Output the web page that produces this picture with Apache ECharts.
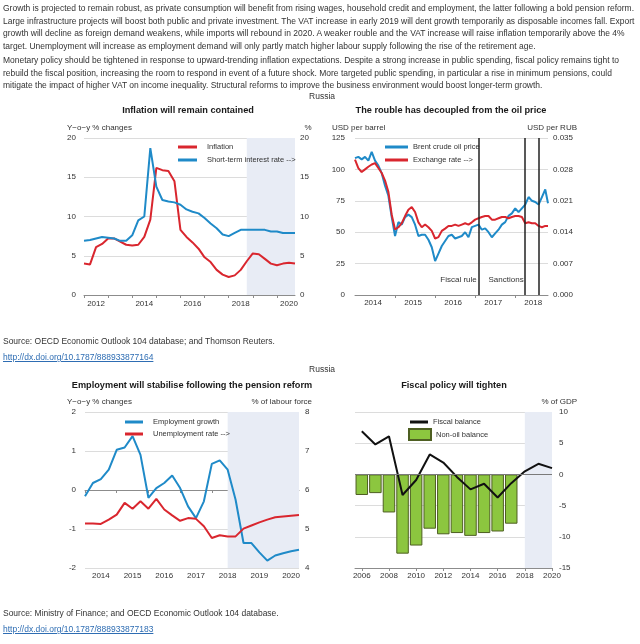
<!DOCTYPE html>
<html><head><meta charset="utf-8">
<script src="https://cdn.jsdelivr.net/npm/echarts@6/dist/echarts.min.js"></script>
<style>
html,body{margin:0;padding:0;background:#fff;}
#wrap{position:relative;width:640px;height:644px;overflow:hidden;font-family:"Liberation Sans",Arial,sans-serif;color:#333;}
#chart{position:absolute;left:0;top:0;width:640px;height:644px;}
.txt{position:absolute;left:3px;white-space:nowrap;font-size:9.3px;line-height:12.6px;transform-origin:0 0;z-index:5;}
.txt div{white-space:nowrap;}
a{color:#2e6db3;}
</style></head><body>
<div id="wrap">
<div id="chart"></div>
<div class="txt" id="para1" style="top:2px">
<div><span id="ref1">Growth is projected to remain robust, as private consumption will benefit from rising wages, household credit and employment, the latter following a bold pension reform.</span></div>
<div>Large infrastructure projects will boost both public and private investment. The VAT increase in early 2019 will dent growth temporarily as disposable incomes fall. Export</div>
<div>growth will decline as foreign demand weakens, while imports will rebound in 2020. A weaker rouble and the VAT increase will raise inflation temporarily above the 4%</div>
<div>target. Unemployment will increase as employment demand will only partly match higher labour supply following the rise of the retirement age.</div>
</div>
<div class="txt" id="para2" style="top:54px">
<div>Monetary policy should be tightened in response to upward-trending inflation expectations. Despite a strong increase in public spending, fiscal policy remains tight to</div>
<div>rebuild the fiscal position, increasing the room to respond in event of a future shock. More targeted public spending, in particular a rise in minimum pensions, could</div>
<div>mitigate the impact of higher VAT on income inequality. Structural reforms to improve the business environment would boost longer-term growth.</div>
</div>
<div class="txt" id="src1" style="top:333px;line-height:16px">
<div>Source: OECD Economic Outlook 104 database; and Thomson Reuters.</div>
<div><a href="#">http://dx.doi.org/10.1787/888933877164</a></div>
</div>
<div class="txt" id="src2" style="top:605px;line-height:16px">
<div>Source: Ministry of Finance; and OECD Economic Outlook 104 database.</div>
<div><a href="#">http://dx.doi.org/10.1787/888933877183</a></div>
</div>
</div>
<script>
// ---------- Panel 1: Inflation ----------
const p1Quarters = ['2012Q1','2012Q2','2012Q3','2012Q4','2013Q1','2013Q2','2013Q3','2013Q4','2014Q1','2014Q2','2014Q3','2014Q4','2015Q1','2015Q2','2015Q3','2015Q4','2016Q1','2016Q2','2016Q3','2016Q4','2017Q1','2017Q2','2017Q3','2017Q4','2018Q1','2018Q2','2018Q3','2018Q4','2019Q1','2019Q2','2019Q3','2019Q4','2020Q1','2020Q2','2020Q3','2020Q4'];
const inflation = [4.0,3.9,6.1,6.5,7.2,7.2,6.8,6.4,6.3,6.4,7.4,9.6,16.2,15.9,15.8,14.5,8.3,7.4,6.7,5.9,4.8,4.2,3.2,2.6,2.3,2.5,3.2,4.3,5.3,5.2,4.6,4.0,3.8,4.0,4.1,4.0];
const shortRate = [6.9,7.0,7.2,7.4,7.3,7.2,6.9,6.9,7.6,9.5,10.0,18.7,13.8,12.1,11.9,11.8,11.5,10.9,10.6,10.4,9.8,9.1,8.5,7.7,7.5,7.9,8.3,8.3,8.3,8.3,8.3,8.1,8.1,7.9,7.9,7.9];
const p1ProjStart = '2018Q4';
// ---------- Panel 2: Oil and rouble ----------
const p2Dates = ['2014-01-01','2014-02-01','2014-03-01','2014-04-01','2014-05-01','2014-06-01','2014-07-01','2014-08-01','2014-09-01','2014-10-01','2014-11-01','2014-12-01',
'2015-01-01','2015-02-01','2015-03-01','2015-04-01','2015-05-01','2015-06-01','2015-07-01','2015-08-01','2015-09-01','2015-10-01','2015-11-01','2015-12-01',
'2016-01-01','2016-02-01','2016-03-01','2016-04-01','2016-05-01','2016-06-01','2016-07-01','2016-08-01','2016-09-01','2016-10-01','2016-11-01','2016-12-01',
'2017-01-01','2017-02-01','2017-03-01','2017-04-01','2017-05-01','2017-06-01','2017-07-01','2017-08-01','2017-09-01','2017-10-01','2017-11-01','2017-12-01',
'2018-01-01','2018-02-01','2018-03-01','2018-04-01','2018-05-01','2018-06-01','2018-07-01','2018-08-01','2018-09-01','2018-10-01','2018-10-26'];
const brent = [109,110,108,110,107,114,107,103,97,87,79,62,47,58,56,62,64,62,56,47,48,48,44,38,27,33,39,43,47,48,45,46,47,50,46,54,55,56,52,53,50,46,49,52,56,58,63,65,69,66,69,72,78,75,74,72,78,84,73];
const usdPerRub = [0.0302,0.0283,0.0274,0.0280,0.0286,0.0291,0.0294,0.0283,0.0272,0.0255,0.0230,0.0179,0.0146,0.0151,0.0160,0.0176,0.0190,0.0196,0.0185,0.0162,0.0151,0.0157,0.0151,0.0143,0.0126,0.0129,0.0143,0.0148,0.0154,0.0154,0.0157,0.0154,0.0157,0.0160,0.0157,0.0162,0.0168,0.0171,0.0174,0.0176,0.0176,0.0168,0.0168,0.0171,0.0174,0.0174,0.0171,0.0174,0.0176,0.0176,0.0174,0.0160,0.0162,0.0160,0.0160,0.0154,0.0151,0.0154,0.0154];
const p2Events = ['2017-02-01','2018-04-01','2018-08-01'];
const p2EventLabels = [{date:'2017-01-25', text:'Fiscal rule'},{date:'2018-03-26', text:'Sanctions'}];
const p2Years = [2014,2015,2016,2017,2018];
// ---------- Panel 3: Employment ----------
const p3Quarters = ['2014Q1','2014Q2','2014Q3','2014Q4','2015Q1','2015Q2','2015Q3','2015Q4','2016Q1','2016Q2','2016Q3','2016Q4','2017Q1','2017Q2','2017Q3','2017Q4','2018Q1','2018Q2','2018Q3','2018Q4','2019Q1','2019Q2','2019Q3','2019Q4','2020Q1','2020Q2','2020Q3','2020Q4'];
const employment = [-0.16,0.18,0.28,0.52,1.03,1.09,1.38,0.90,-0.20,0.05,0.18,0.37,0.05,-0.42,-0.72,-0.29,0.67,0.76,0.52,-0.25,-1.36,-1.36,-1.60,-1.81,-1.68,-1.62,-1.57,-1.53];
const unemployment = [5.14,5.14,5.13,5.24,5.37,5.67,5.52,5.71,5.52,5.77,5.50,5.35,5.21,5.28,5.26,5.07,4.77,4.84,4.81,4.81,5.01,5.09,5.17,5.24,5.30,5.32,5.34,5.36];
const p3ProjStart = '2018Q3';
// ---------- Panel 4: Fiscal ----------
const p4Years = [2006,2007,2008,2009,2010,2011,2012,2013,2014,2015,2016,2017,2018,2019,2020];
const fiscalBalance = [6.9,4.8,6.1,-3.3,-0.9,3.2,1.9,-0.4,-2.4,-1.5,-3.7,-1.4,0.5,1.7,1.0];
const nonOilBalance = [-3.3,-3.0,-6.1,-12.7,-11.4,-8.7,-9.6,-9.4,-9.85,-9.4,-9.15,-7.9,null,null,null];
const p4ProjStart = 2018;
const p4LabelYears = [2006,2008,2010,2012,2014,2016,2018,2020];

const FONT = '"Liberation Sans", Arial, sans-serif';
const RED = '#d9262e', BLUE = '#1f8ac8', SHADE = '#e8ecf5', GRIDC = '#dcdcdc', AXC = '#8c8c8c', TXT = '#333';
// date string -> decimal year (position on the panel-2 value axis)
const dy = s => { const p = s.split('-').map(Number); return p[0] + (p[1]-1)/12 + (p[2]-1)/365; };

function txt(text, x, y, align, size) {
  return {text, left: x, top: y, textAlign: align, padding: 0,
    textStyle: {fontFamily: FONT, fontSize: size || 8, fontWeight: 'normal', color: TXT}};
}
function ttl(text, x, y) {
  return {text, left: x, top: y, textAlign: 'center', padding: 0,
    textStyle: {fontFamily: FONT, fontSize: 9.2, fontWeight: 'bold', color: '#1a1a1a'}};
}
const axisLbl = {fontFamily: FONT, fontSize: 8, color: TXT};
const yHidden = {axisLine: {show: false}, axisTick: {show: false}};

function draw() {
const chart = echarts.init(document.getElementById('chart'), null, {renderer: 'canvas'});
const option = {
  animation: false,
  backgroundColor: 'transparent',
  textStyle: {fontFamily: FONT},
  title: [
    txt('Russia', 322, 92, 'center', 8.5),
    ttl('Inflation will remain contained', 188, 106),
    ttl('The rouble has decoupled from the oil price', 451, 106),
    txt('Y\u2212o\u2212y % changes', 67, 124, 'left'),
    txt('%', 308, 124, 'center'),
    txt('USD per barrel', 332, 124, 'left'),
    txt('USD per RUB', 577, 124, 'right'),
    txt('Russia', 322, 365, 'center', 8.5),
    ttl('Employment will stabilise following the pension reform', 192, 381),
    ttl('Fiscal policy will tighten', 454, 381),
    txt('Y\u2212o\u2212y % changes', 67, 398, 'left'),
    txt('% of labour force', 312, 398, 'right'),
    txt('% of GDP', 577, 398, 'right')
  ],
  grid: [
    {left: 84, top: 138, width: 211, height: 157},
    {left: 355, top: 138, width: 193, height: 157},
    {left: 85, top: 412, width: 214, height: 156},
    {left: 355, top: 412, width: 197, height: 156}
  ],
  legend: [
    {left: 178, top: 143, orient: 'vertical', padding: 0, itemGap: 5, itemWidth: 19, itemHeight: 3, icon: 'rect',
     textStyle: {fontFamily: FONT, fontSize: 7.5, color: TXT, padding: [0,0,0,5]}, data: ['Inflation', 'Short-term interest rate -->']},
    {left: 385, top: 143, orient: 'vertical', padding: 0, itemGap: 5, itemWidth: 23, itemHeight: 3, icon: 'rect',
     textStyle: {fontFamily: FONT, fontSize: 7.5, color: TXT}, data: ['Brent crude oil price', 'Exchange rate -->']},
    {left: 125, top: 418, orient: 'vertical', padding: 0, itemGap: 4, itemWidth: 18, itemHeight: 3, icon: 'rect',
     textStyle: {fontFamily: FONT, fontSize: 7.5, color: TXT, padding: [0,0,0,5]}, data: ['Employment growth', 'Unemployment rate -->']},
    {left: 410, top: 418, orient: 'vertical', padding: 0, itemWidth: 18, itemHeight: 3, icon: 'rect',
     textStyle: {fontFamily: FONT, fontSize: 7.5, color: TXT}, data: ['Fiscal balance']},
    {left: 408, top: 428, orient: 'vertical', padding: 0, itemWidth: 22, itemHeight: 11, icon: 'rect',
     textStyle: {fontFamily: FONT, fontSize: 7.5, color: TXT}, data: ['Non-oil balance']}
  ],
  xAxis: [
    {type: 'category', gridIndex: 0, data: p1Quarters, boundaryGap: false,
     axisLine: {lineStyle: {color: AXC}}, axisTick: {length: 3, lineStyle: {color: AXC}, interval: (i) => i % 4 === 0},
     axisLabel: Object.assign({interval: (i) => i % 8 === 2, margin: 5, formatter: v => v.slice(0,4)}, axisLbl)},
    {type: 'value', gridIndex: 1, min: dy(p2Dates[0]), max: dy(p2Dates[p2Dates.length-1]),
     splitLine: {show: false},
     axisLine: {lineStyle: {color: AXC}},
     axisTick: {length: 3, lineStyle: {color: AXC}, customValues: p2Years.slice(1)},
     axisLabel: Object.assign({margin: 4, customValues: p2Years.map(y => y + 0.45), formatter: v => String(Math.floor(v))}, axisLbl)},
    {type: 'category', gridIndex: 2, data: p3Quarters, boundaryGap: false,
     axisLine: {lineStyle: {color: AXC}}, axisTick: {length: 3, lineStyle: {color: AXC}, interval: (i) => i % 4 === 0},
     axisLabel: Object.assign({interval: (i) => i % 4 === 2, margin: 4, formatter: v => v.slice(0,4)}, axisLbl)},
    {type: 'value', gridIndex: 3, min: 2005.5, max: 2020, splitLine: {show: false},
     axisLine: {onZero: false, lineStyle: {color: AXC}},
     axisTick: {length: 3, lineStyle: {color: AXC}, customValues: p4LabelYears},
     axisLabel: Object.assign({margin: 4, customValues: p4LabelYears, formatter: v => String(v)}, axisLbl)}
  ],
  yAxis: [
    Object.assign({type: 'value', gridIndex: 0, min: 0, max: 20, interval: 5, position: 'left',
     splitLine: {lineStyle: {color: GRIDC}}, axisLabel: Object.assign({margin: 8}, axisLbl)}, yHidden),
    Object.assign({type: 'value', gridIndex: 0, min: 0, max: 20, interval: 5, position: 'right',
     splitLine: {show: false}, axisLabel: Object.assign({margin: 5}, axisLbl)}, yHidden),
    Object.assign({type: 'value', gridIndex: 1, min: 0, max: 125, interval: 25, position: 'left',
     splitLine: {lineStyle: {color: GRIDC}}, axisLabel: Object.assign({margin: 10}, axisLbl)}, yHidden),
    Object.assign({type: 'value', gridIndex: 1, min: 0, max: 0.035, interval: 0.007, position: 'right',
     splitLine: {show: false}, axisLabel: Object.assign({margin: 5, formatter: v => v.toFixed(3)}, axisLbl)}, yHidden),
    Object.assign({type: 'value', gridIndex: 2, min: -2, max: 2, interval: 1, position: 'left',
     splitLine: {lineStyle: {color: GRIDC}}, axisLabel: Object.assign({margin: 9}, axisLbl)}, yHidden),
    Object.assign({type: 'value', gridIndex: 2, min: 4, max: 8, interval: 1, position: 'right',
     splitLine: {show: false}, axisLabel: Object.assign({margin: 6}, axisLbl)}, yHidden),
    Object.assign({type: 'value', gridIndex: 3, min: -15, max: 10, interval: 5, position: 'right',
     splitLine: {lineStyle: {color: GRIDC}}, axisLabel: Object.assign({margin: 7}, axisLbl)}, yHidden)
  ],
  series: [
    {name: 'Inflation', type: 'line', xAxisIndex: 0, yAxisIndex: 0, data: inflation, symbol: 'none',
     lineStyle: {color: RED, width: 2}, itemStyle: {color: RED}, z: 3,
     markArea: {silent: true, itemStyle: {color: SHADE}, data: [[{xAxis: p1ProjStart}, {xAxis: p1Quarters[p1Quarters.length-1]}]]}},
    {name: 'Short-term interest rate -->', type: 'line', xAxisIndex: 0, yAxisIndex: 1, data: shortRate, symbol: 'none',
     lineStyle: {color: BLUE, width: 2}, itemStyle: {color: BLUE}, z: 4},
    {name: 'Brent crude oil price', type: 'line', xAxisIndex: 1, yAxisIndex: 2, symbol: 'none',
     data: p2Dates.map((d, i) => [dy(d), brent[i]]),
     lineStyle: {color: BLUE, width: 2}, itemStyle: {color: BLUE}, z: 3,
     markLine: {silent: true, symbol: 'none', label: {show: false}, lineStyle: {color: '#222', width: 1.5, type: 'solid'},
       data: p2Events.map(d => ({xAxis: dy(d)}))},
     markPoint: {silent: true, symbol: 'circle', symbolSize: 0,
       data: p2EventLabels.map(e => ({coord: [dy(e.date), 12], label: {show: true, position: 'left', distance: 1, formatter: e.text,
         fontFamily: FONT, fontSize: 8, color: TXT}}))}},
    {name: 'Exchange rate -->', type: 'line', xAxisIndex: 1, yAxisIndex: 3, symbol: 'none',
     data: p2Dates.map((d, i) => [dy(d), usdPerRub[i]]),
     lineStyle: {color: RED, width: 2}, itemStyle: {color: RED}, z: 4},
    {name: 'Employment growth', type: 'line', xAxisIndex: 2, yAxisIndex: 4, data: employment, symbol: 'none',
     lineStyle: {color: BLUE, width: 2}, itemStyle: {color: BLUE}, z: 3,
     markArea: {silent: true, itemStyle: {color: SHADE}, data: [[{xAxis: p3ProjStart}, {xAxis: p3Quarters[p3Quarters.length-1]}]]}},
    {name: 'Unemployment rate -->', type: 'line', xAxisIndex: 2, yAxisIndex: 5, data: unemployment, symbol: 'none',
     lineStyle: {color: RED, width: 2}, itemStyle: {color: RED}, z: 4},
    {name: 'Non-oil balance', type: 'bar', xAxisIndex: 3, yAxisIndex: 6, barWidth: 12.5,
     data: p4Years.map((y, i) => [y, nonOilBalance[i]]),
     itemStyle: {color: '#8cc63f', borderColor: '#4e5f22', borderWidth: 1}, z: 3,
     markArea: {silent: true, itemStyle: {color: SHADE}, data: [[{xAxis: p4ProjStart}, {xAxis: p4Years[p4Years.length-1]}]]},
     markLine: {silent: true, symbol: 'none', label: {show: false}, lineStyle: {color: '#7a7a7a', width: 1, type: 'solid'}, data: [{yAxis: 0}]}},
    {name: 'Fiscal balance', type: 'line', xAxisIndex: 3, yAxisIndex: 6, symbol: 'none',
     data: p4Years.map((y, i) => [y, fiscalBalance[i]]),
     lineStyle: {color: '#111', width: 2}, itemStyle: {color: '#111'}, z: 4}
  ]
};
chart.setOption(option);
}

function fitText() {
  const w = document.getElementById('ref1').getBoundingClientRect().width;
  const s = w > 0 ? 631 / w : 1;
  ['para1','para2','src1','src2'].forEach(id => {
    document.getElementById(id).style.transform = 'scaleX(' + s + ')';
  });
}
fitText();
try { draw(); } catch (e) { console.error(e); }
</script>
</body></html>
